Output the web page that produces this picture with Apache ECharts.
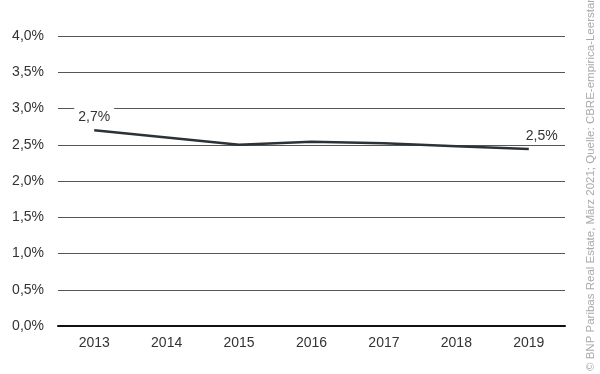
<!DOCTYPE html>
<html><head><meta charset="utf-8">
<script src="https://cdn.jsdelivr.net/npm/echarts@6/dist/echarts.min.js"></script>
<style>html,body{margin:0;padding:0;background:#fff}#c{width:600px;height:374px}</style>
</head><body><div id="c"></div>
<script>
const categories = ['2013','2014','2015','2016','2017','2018','2019'];
const values = [2.7, 2.6, 2.5, 2.54, 2.52, 2.48, 2.44];
const valueLabels = ['2,7%', '', '', '', '', '', '2,5%'];
const yTicks = [0, 0.5, 1, 1.5, 2, 2.5, 3, 3.5, 4];
const sourceText = '© BNP Paribas Real Estate, März 2021; Quelle: CBRE-empirica-Leerstandsindex';

const font = 'Liberation Sans';
const chart = echarts.init(document.getElementById('c'));
chart.setOption({
  animation: false,
  backgroundColor: '#fff',
  grid: { left: 58, right: 35, top: 36, bottom: 48, containLabel: false },
  xAxis: {
    type: 'category', data: categories, boundaryGap: true,
    axisLine: { show: true, lineStyle: { color: '#111', width: 2 } },
    axisTick: { show: false },
    axisLabel: { color: '#333', fontSize: 14, fontFamily: font, margin: 10 }
  },
  yAxis: {
    type: 'value', min: yTicks[0], max: yTicks[yTicks.length - 1], interval: 0.5,
    axisLine: { show: false }, axisTick: { show: false },
    axisLabel: { color: '#333', fontSize: 14, fontFamily: font, margin: 14,
      formatter: v => v.toFixed(1).replace('.', ',') + '%' },
    splitLine: { lineStyle: { color: '#555', width: 1 } }
  },
  series: [{
    type: 'line',
    symbol: 'circle', symbolSize: 1, showSymbol: true,
    itemStyle: { color: 'rgba(0,0,0,0)' },
    lineStyle: { color: '#2b3238', width: 2.5 },
    label: { show: false },
    data: values.map((v, i) => ({
      value: v,
      label: valueLabels[i] ? {
        show: true, formatter: valueLabels[i],
        position: 'top', distance: 4,
        offset: i === values.length - 1 ? [13, 0] : [0, -1],
        backgroundColor: '#fff', padding: i === 0 ? [4, 4, 1, 4] : [1, 3],
        color: '#333', fontSize: 14, fontFamily: font
      } : { show: false }
    }))
  }],
  graphic: [{
    type: 'text', x: 591, y: 371, rotation: Math.PI / 2,
    style: { text: sourceText, fill: '#aaa', fontSize: 11.5, fontFamily: font,
      align: 'left', verticalAlign: 'middle' }
  }]
});
</script></body></html>
